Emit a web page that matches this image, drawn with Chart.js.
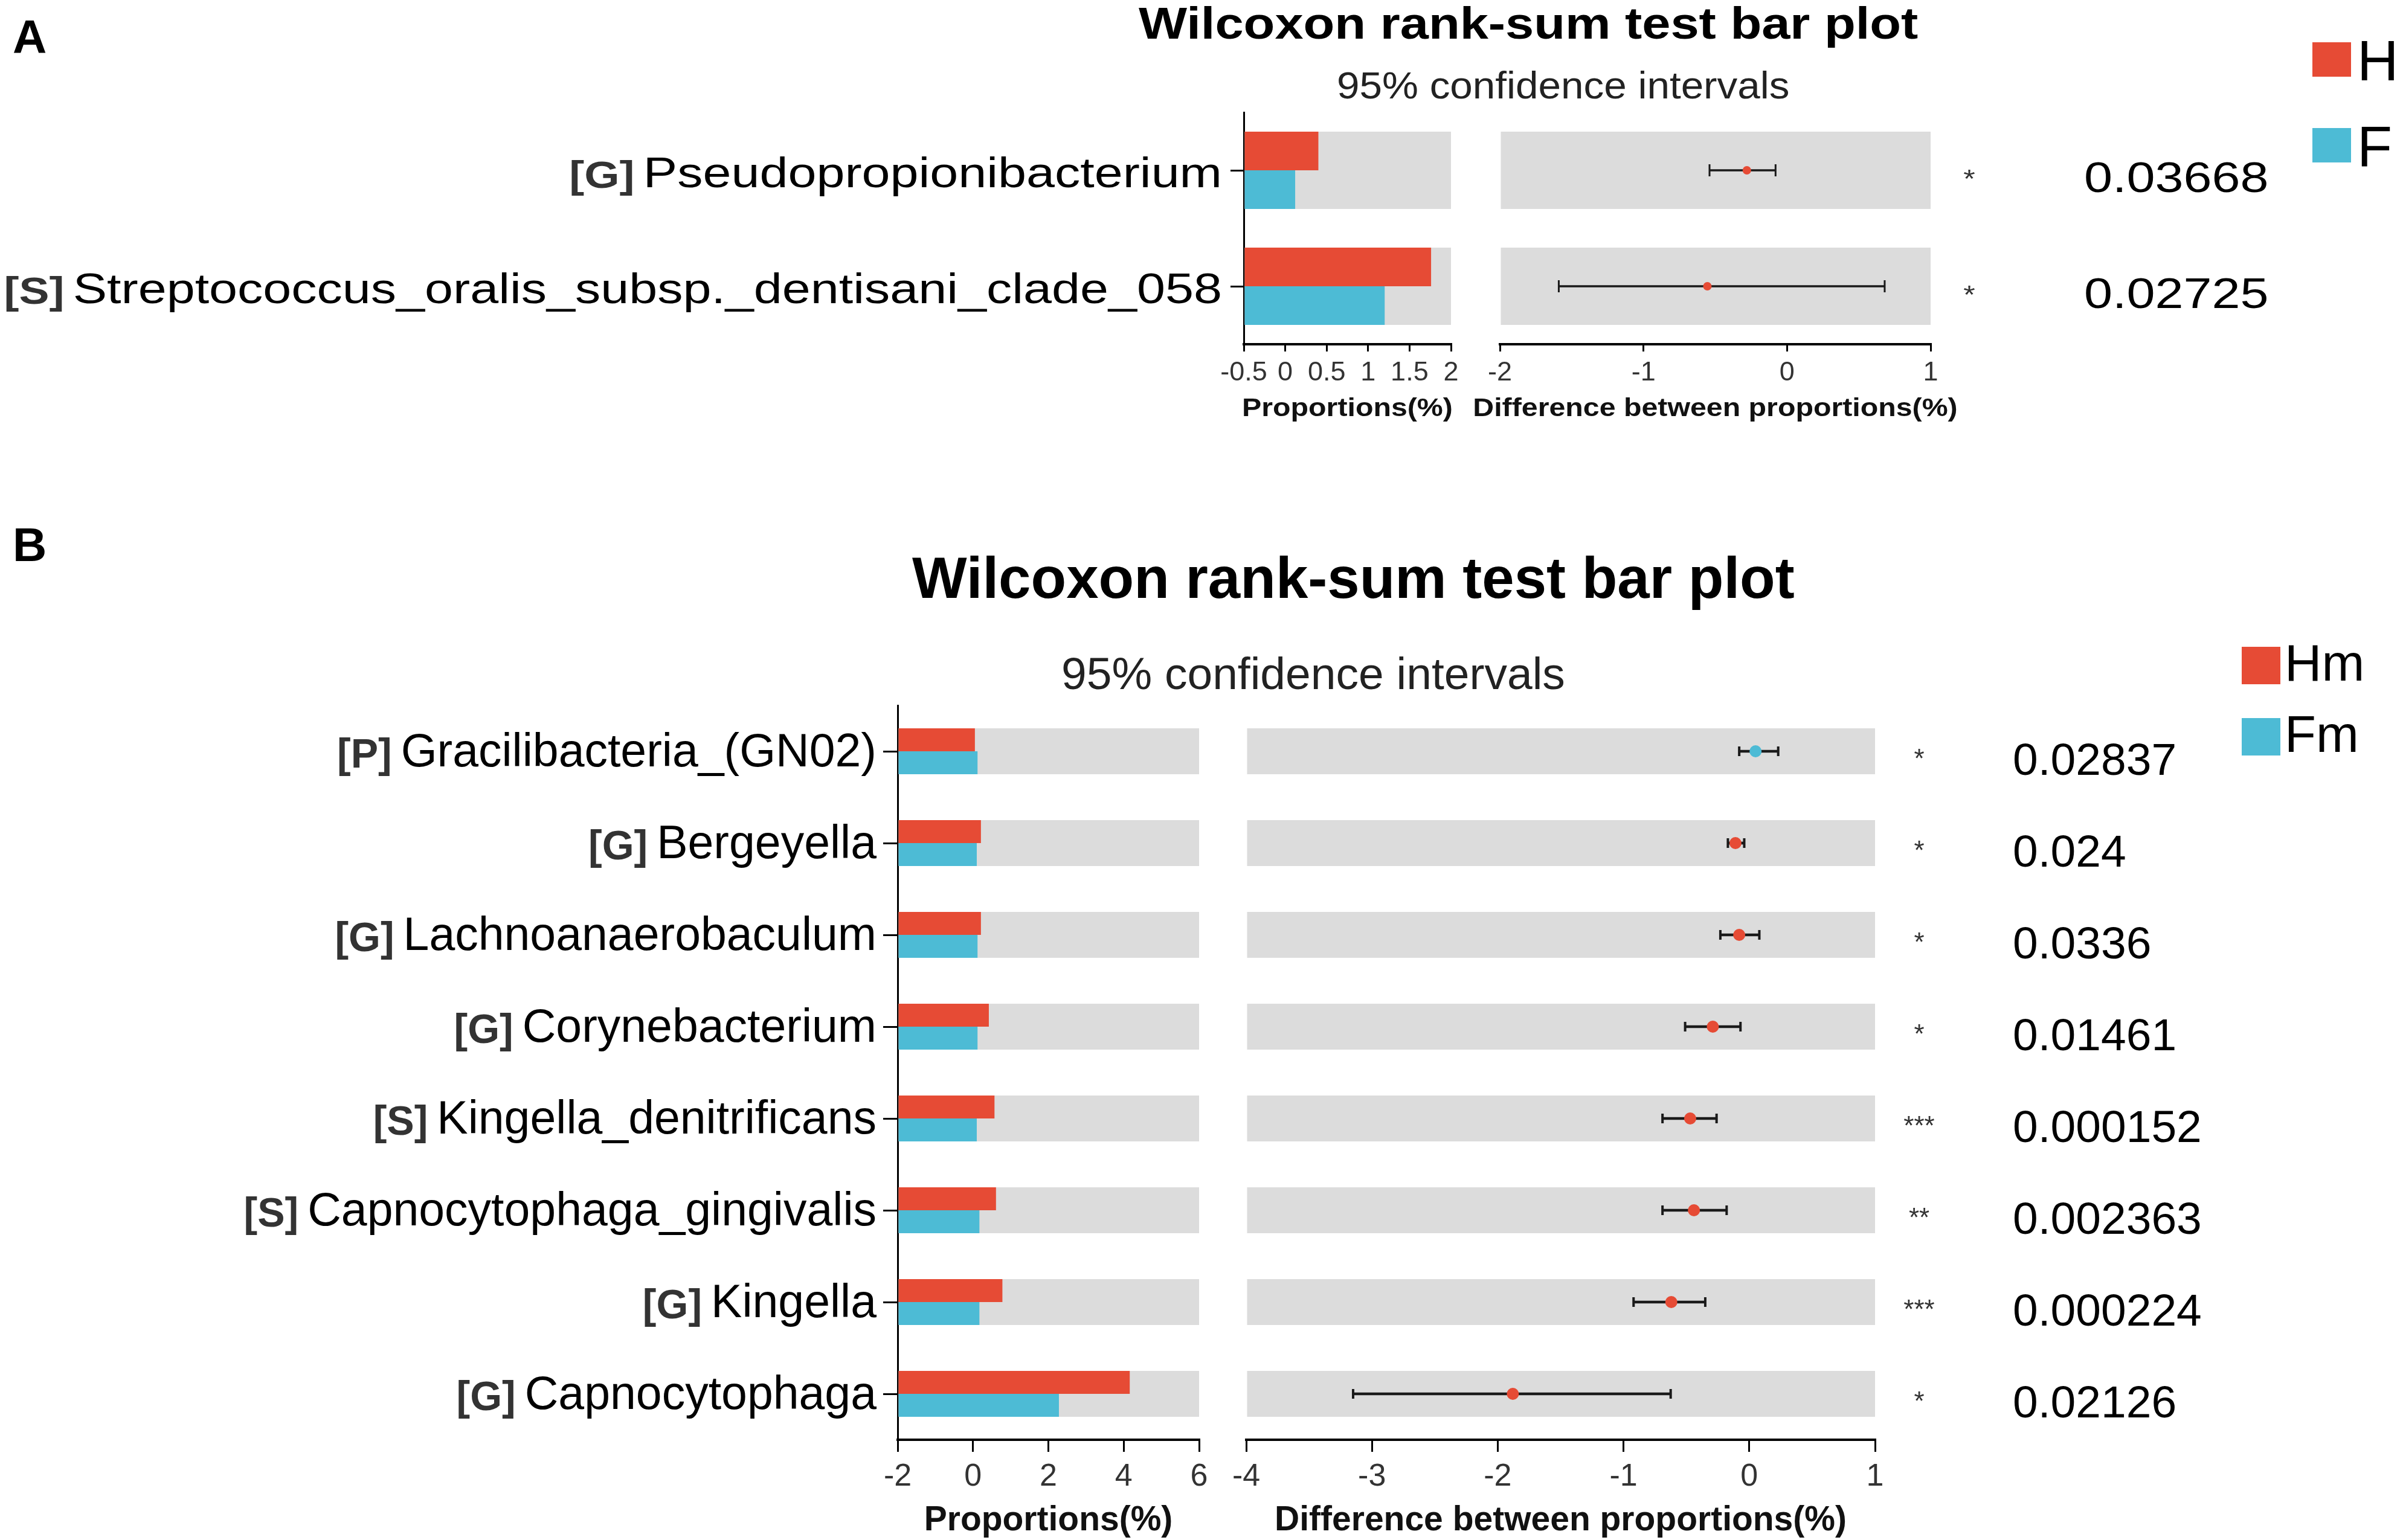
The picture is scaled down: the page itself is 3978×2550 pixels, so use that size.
<!DOCTYPE html>
<html>
<head>
<meta charset="utf-8">
<script src="https://cdn.jsdelivr.net/npm/chart.js@4.4.1/dist/chart.umd.min.js"></script>
<style>
html,body{margin:0;padding:0;background:#fff;}
#page{position:relative;width:3978px;height:2550px;overflow:hidden;background:#fff;font-family:"Liberation Sans",Arial,Helvetica,sans-serif;}
#page canvas{position:absolute;}
.t{position:absolute;white-space:nowrap;line-height:1;transform-origin:0 0;color:#000;}
.sq{position:absolute;}
</style>
</head>
<body>
<div id="page">
  <canvas id="aProp"></canvas>
  <canvas id="aDiff"></canvas>
  <canvas id="bProp"></canvas>
  <canvas id="bDiff"></canvas>
</div>
<script>
// ---------------- Panel A data ----------------
const groupsA = ['H', 'F'];
const taxonPrefixA = ['[G]', '[S]'];
const taxonNameA = ['Pseudopropionibacterium', 'Streptococcus_oralis_subsp._dentisani_clade_058'];
const propH_A = [0.40, 1.76];
const propF_A = [0.12, 1.20];
const diffA = [-0.28, -0.555];
const ciLowA = [-0.54, -1.59];
const ciHighA = [-0.08, 0.68];
const starsA = ['*', '*'];
const pValuesA = ['0.03668', '0.02725'];
const propTicksA = [-0.5, 0, 0.5, 1, 1.5, 2];
const diffTicksA = [-2, -1, 0, 1];

// ---------------- Panel B data ----------------
const groupsB = ['Hm', 'Fm'];
const taxonPrefixB = ['[P]', '[G]', '[G]', '[G]', '[S]', '[S]', '[G]', '[G]'];
const taxonNameB = ['Gracilibacteria_(GN02)', 'Bergeyella', 'Lachnoanaerobaculum', 'Corynebacterium',
  'Kingella_denitrificans', 'Capnocytophaga_gingivalis', 'Kingella', 'Capnocytophaga'];
const propHm_B = [0.05, 0.21, 0.21, 0.42, 0.57, 0.61, 0.78, 4.16];
const propFm_B = [0.12, 0.10, 0.12, 0.12, 0.10, 0.17, 0.17, 2.28];
const diffB = [0.05, -0.11, -0.08, -0.29, -0.47, -0.44, -0.62, -1.88];
const ciLowB = [-0.08, -0.17, -0.23, -0.51, -0.69, -0.69, -0.92, -3.15];
const ciHighB = [0.23, -0.04, 0.08, -0.07, -0.26, -0.18, -0.35, -0.625];
const starsB = ['*', '*', '*', '*', '***', '**', '***', '*'];
const pValuesB = ['0.02837', '0.024', '0.0336', '0.01461', '0.000152', '0.002363', '0.000224', '0.02126'];
const propTicksB = [-2, 0, 2, 4, 6];
const diffTicksB = [-4, -3, -2, -1, 0, 1];

const titleText = 'Wilcoxon rank-sum test bar plot';
const subtitleText = '95% confidence intervals';
const propAxisTitle = 'Proportions(%)';
const diffAxisTitle = 'Difference between proportions(%)';

// ---------------- styling ----------------
const FONT = '"Liberation Sans", Arial, Helvetica, sans-serif';
const RED = '#E64B35', BLUE = '#4DBBD5', BAND = '#DCDCDC', INK = '#1a1a1a';

function placeCanvas(id, g) {
  const c = document.getElementById(id);
  c.width = g.w; c.height = g.h;
  c.style.left = g.left + 'px'; c.style.top = g.top + 'px';
  c.style.width = g.w + 'px'; c.style.height = g.h + 'px';
  return c;
}

// x-axis title drawn at the centre of the library's x scale (may overhang the axis like the original)
function axisTitlePlugin(cfg, text) {
  return {
    id: 'axisTitle',
    afterDraw(chart) {
      const ctx = chart.ctx, xs = chart.scales.x;
      ctx.save();
      ctx.translate((xs.left + xs.right) / 2, cfg.titleBaseline);
      ctx.scale(cfg.titleSx, 1);
      ctx.textAlign = 'center';
      ctx.textBaseline = 'alphabetic';
      ctx.font = 'bold ' + cfg.titleSize + 'px ' + FONT;
      ctx.fillStyle = '#111';
      ctx.fillText(text, 0, 0);
      ctx.restore();
    }
  };
}

function labelPlugin(cfg) {
  return {
    id: 'taxonLabels',
    afterDraw(chart) {
      const ctx = chart.ctx, ys = chart.scales.y;
      cfg.names.forEach((name, i) => {
        const y = ys.getPixelForValue(i);
        ctx.save();
        ctx.translate(cfg.labelRight, y + cfg.labelDy);
        ctx.scale(cfg.sx, 1);
        ctx.textAlign = 'right';
        ctx.textBaseline = 'alphabetic';
        ctx.font = cfg.labelSize + 'px ' + FONT;
        ctx.fillStyle = '#000';
        ctx.fillText(name, 0, 0);
        const w = ctx.measureText(name).width;
        ctx.font = 'bold ' + cfg.prefixSize + 'px ' + FONT;
        ctx.fillStyle = '#333';
        ctx.fillText(cfg.prefixes[i], -w - cfg.gap, cfg.prefixDy);
        ctx.restore();
      });
    }
  };
}

function statsPlugin(cfg) {
  return {
    id: 'statsText',
    afterDraw(chart) {
      const ctx = chart.ctx, ys = chart.scales.y;
      cfg.names.forEach((name, i) => {
        const y = ys.getPixelForValue(i);
        ctx.save();
        ctx.translate(cfg.starX, y + cfg.starDy);
        ctx.scale(cfg.sx, 1);
        ctx.textAlign = 'center';
        ctx.textBaseline = 'alphabetic';
        ctx.font = cfg.starSize + 'px ' + FONT;
        ctx.fillStyle = '#333';
        ctx.fillText(cfg.stars[i], 0, 0);
        ctx.restore();
        ctx.save();
        ctx.translate(cfg.pX, y + cfg.pDy);
        ctx.scale(cfg.sx, 1);
        ctx.textAlign = 'left';
        ctx.textBaseline = 'alphabetic';
        ctx.font = cfg.pSize + 'px ' + FONT;
        ctx.fillStyle = '#000';
        ctx.fillText(cfg.pvals[i], 0, 0);
        ctx.restore();
      });
    }
  };
}

function xAxis(cfg, ticks) {
  return {
    type: 'linear',
    min: ticks[0], max: ticks[ticks.length - 1],
    afterBuildTicks: s => { s.ticks = ticks.map(v => ({ value: v })); },
    afterFit: s => { s.height = cfg.xh; },
    ticks: { autoSkip: false, maxRotation: 0, minRotation: 0, padding: cfg.tickPad, color: '#333',
      font: { family: FONT, size: cfg.tickSize }, callback: v => String(v) },
    grid: { display: true, drawOnChartArea: false, drawTicks: true, tickLength: cfg.tickLen, color: '#000', lineWidth: 3 },
    border: { display: true, color: '#000', width: 4 },
    title: { display: false }
  };
}

function propChart(id, cfg) {
  placeCanvas(id, cfg.geo);
  const ticks = cfg.ticks, xmin = ticks[0], xmax = ticks[ticks.length - 1];
  return new Chart(document.getElementById(id), {
    type: 'bar',
    data: {
      labels: cfg.names,
      datasets: [
        { label: 'band', data: cfg.names.map(() => xmax), base: xmin, backgroundColor: BAND,
          grouped: false, order: 10, categoryPercentage: cfg.cat, barPercentage: 1 },
        { label: cfg.groups[0], data: cfg.g1, base: xmin, backgroundColor: RED, order: 0,
          categoryPercentage: cfg.cat, barPercentage: 1 },
        { label: cfg.groups[1], data: cfg.g2, base: xmin, backgroundColor: BLUE, order: 0,
          categoryPercentage: cfg.cat, barPercentage: 1 }
      ]
    },
    options: {
      indexAxis: 'y', responsive: false, animation: false, devicePixelRatio: 1,
      layout: { padding: cfg.pad },
      plugins: { legend: { display: false }, tooltip: { enabled: false } },
      scales: {
        x: xAxis(cfg, ticks),
        y: { type: 'category', offset: true, afterFit: s => { s.width = cfg.ytick; },
          ticks: { display: false },
          grid: { display: true, offset: false, drawOnChartArea: false, drawTicks: true, tickLength: cfg.ytick, color: '#000', lineWidth: 3 },
          border: { display: true, color: '#000', width: 3 } }
      }
    },
    plugins: [labelPlugin(cfg), axisTitlePlugin(cfg, propAxisTitle)]
  });
}

function diffChart(id, cfg) {
  placeCanvas(id, cfg.geo);
  const ticks = cfg.ticks, xmin = ticks[0], xmax = ticks[ticks.length - 1];
  const caps = [];
  cfg.low.forEach((v, i) => { caps.push({ x: v, y: cfg.names[i] }); caps.push({ x: cfg.high[i], y: cfg.names[i] }); });
  return new Chart(document.getElementById(id), {
    type: 'bar',
    data: {
      labels: cfg.names,
      datasets: [
        { type: 'bar', label: 'band', data: cfg.names.map(() => xmax), base: xmin, backgroundColor: BAND,
          grouped: false, order: 10, categoryPercentage: cfg.cat, barPercentage: 1 },
        { type: 'bar', label: 'ci', data: cfg.low.map((v, i) => [v, cfg.high[i]]), backgroundColor: INK,
          grouped: false, barThickness: cfg.ciW, order: 5 },
        { type: 'line', label: 'caps', data: caps, showLine: false, pointStyle: 'line', pointRotation: 90,
          pointRadius: cfg.capR, pointBorderWidth: cfg.ciW, pointBorderColor: INK, borderColor: INK, order: 3 },
        { type: 'line', label: 'diff', data: cfg.diff.map((v, i) => ({ x: v, y: cfg.names[i] })), showLine: false,
          pointRadius: cfg.dotR, pointBorderWidth: 0, pointBackgroundColor: cfg.diff.map(v => v < 0 ? RED : BLUE),
          order: 0 }
      ]
    },
    options: {
      indexAxis: 'y', responsive: false, animation: false, devicePixelRatio: 1,
      layout: { padding: cfg.pad },
      plugins: { legend: { display: false }, tooltip: { enabled: false } },
      scales: {
        x: xAxis(cfg, ticks),
        y: { type: 'category', offset: true, display: false }
      }
    },
    plugins: [statsPlugin(cfg), axisTitlePlugin(cfg, diffAxisTitle)]
  });
}

// ---------------- Panel A ----------------
const axA = { xh: 140, tickLen: 12, tickPad: 9, tickSize: 45, titleSize: 42, titleSx: 1.15, titleBaseline: 519, cat: 0.667 };
propChart('aProp', Object.assign({}, axA, {
  geo: { left: 0, top: 170, w: 2440, h: 540 },
  pad: { left: 2037, right: 38, top: 16, bottom: 0 }, ytick: 22,
  names: taxonNameA, prefixes: taxonPrefixA, groups: groupsA, g1: propH_A, g2: propF_A, ticks: propTicksA,
  labelRight: 2023, labelDy: 28, labelSize: 71, prefixSize: 63, prefixDy: 1, gap: 12, sx: 1.19
}));
diffChart('aDiff', Object.assign({}, axA, {
  geo: { left: 2440, top: 170, w: 1538, h: 540 },
  pad: { left: 43, right: 782, top: 16, bottom: 0 },
  names: taxonNameA, diff: diffA, low: ciLowA, high: ciHighA, ticks: diffTicksA,
  ciW: 3, capR: 10, dotR: 7,
  stars: starsA, pvals: pValuesA, starX: 820, starDy: 28, starSize: 42, pX: 1010, pDy: 36, pSize: 71, sx: 1.19
}));

// ---------------- Panel B ----------------
const axB = { xh: 166, tickLen: 20, tickPad: 10, tickSize: 52, titleSize: 57, titleSx: 1, titleBaseline: 1434, cat: 0.5 };
propChart('bProp', Object.assign({}, axB, {
  geo: { left: 0, top: 1100, w: 2040, h: 1450 },
  pad: { left: 1462, right: 55, top: 68, bottom: 0 }, ytick: 24,
  names: taxonNameB, prefixes: taxonPrefixB, groups: groupsB, g1: propHm_B, g2: propFm_B, ticks: propTicksB,
  labelRight: 1451, labelDy: 25, labelSize: 77, prefixSize: 68, prefixDy: 2, gap: 15, sx: 1
}));
diffChart('bDiff', Object.assign({}, axB, {
  geo: { left: 2000, top: 1100, w: 1978, h: 1450 },
  pad: { left: 63, right: 874, top: 68, bottom: 0 },
  names: taxonNameB, diff: diffB, low: ciLowB, high: ciHighB, ticks: diffTicksB,
  ciW: 4, capR: 8, dotR: 10,
  stars: starsB, pvals: pValuesB, starX: 1177, starDy: 27, starSize: 44, pX: 1332, pDy: 39, pSize: 75, sx: 1
}));

// ---------------- titles, panel letters, legends ----------------
const page = document.getElementById('page');
function txt(s, left, baseline, size, opt) {
  opt = opt || {};
  const d = document.createElement('div');
  d.className = 't';
  d.textContent = s;
  d.style.left = left + 'px';
  d.style.top = (baseline - 0.8465 * size) + 'px';
  d.style.fontSize = size + 'px';
  if (opt.bold) d.style.fontWeight = 'bold';
  if (opt.color) d.style.color = opt.color;
  if (opt.sx) d.style.transform = 'scaleX(' + opt.sx + ')';
  page.appendChild(d);
}
function sq(left, top, w, h, color) {
  const d = document.createElement('div');
  d.className = 'sq';
  d.style.left = left + 'px'; d.style.top = top + 'px';
  d.style.width = w + 'px'; d.style.height = h + 'px';
  d.style.background = color;
  page.appendChild(d);
}

txt('A', 21, 88, 78, { bold: true });
txt(titleText, 1885, 65, 74, { bold: true, sx: 1.146 });
txt(subtitleText, 2213, 163, 63, { color: '#222', sx: 1.07 });
sq(3828, 70, 64, 57, RED);
sq(3828, 212, 64, 57, BLUE);
txt(groupsA[0], 3902, 133, 95);
txt(groupsA[1], 3902, 275, 95);

txt('B', 21, 929, 78, { bold: true });
txt(titleText, 1510, 990, 96, { bold: true });
txt(subtitleText, 1757, 1141, 75, { color: '#222' });
sq(3711, 1071, 64, 62, RED);
sq(3711, 1189, 64, 62, BLUE);
txt(groupsB[0], 3782, 1127, 85);
txt(groupsB[1], 3782, 1245, 85);
</script>
</body>
</html>
